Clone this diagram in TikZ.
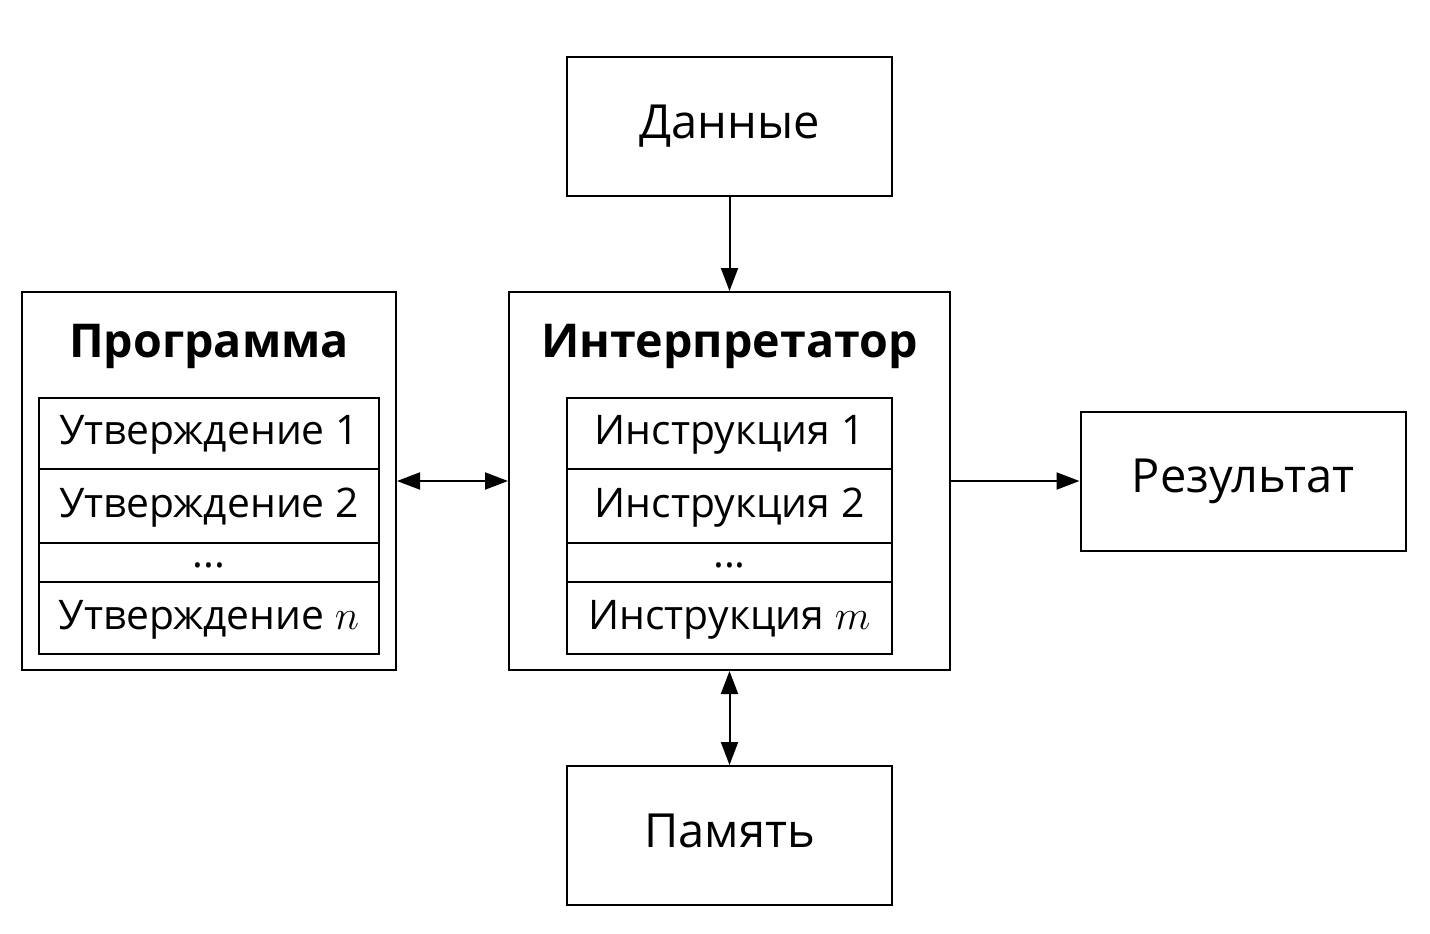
\documentclass[tikz,border=0pt]{standalone}
\usepackage{fontspec}
\setmainfont{Open Sans}
\usetikzlibrary{arrows.meta}
\begin{document}
\begin{tikzpicture}[x=0.5pt,y=-0.5pt,
  box/.style={draw,line width=1pt,inner sep=0pt,text height=1.1em,text depth=0em},
  big/.style={box,minimum width=162.5pt,minimum height=69.5pt,font=\fontsize{23.5}{28}\selectfont,text height=1.15em},
  outer/.style={draw,line width=1pt,inner sep=0pt,minimum height=189pt},
  title/.style={anchor=base,font=\fontsize{23.3}{28}\selectfont\bfseries},
  row/.style={box,font=\fontsize{20.4}{24}\selectfont},
  arr/.style={line width=1pt,-{Triangle[length=11.5pt,width=8.5pt]}},
  biarr/.style={line width=1pt,{Triangle[length=11.5pt,width=8.5pt]}-{Triangle[length=11.5pt,width=8.5pt]}}]
\useasboundingbox (0,0) rectangle (1430,933);
% top / bottom / right boxes
\node[big] (data) at (729.5,126.5) {Данные};
\node[big] (mem) at (729.5,835.5) {Память};
\node[big] (res) at (1243,481) {Результат};
% program
\node[outer,minimum width=187pt] (prog) at (209,481) {};
\node[title] (progt) at (209,357) {Программа};
\node[row,minimum width=170pt,minimum height=35.5pt] (p1) at (209,433.5) {Утверждение 1};
\node[row,minimum width=170pt,minimum height=37pt] (p2) at (209,506) {Утверждение 2};
\node[row,minimum width=170pt,minimum height=19.5pt,text height=0.5em,text depth=0pt] (p3) at (209,562.5) {...};
\node[row,minimum width=170pt,minimum height=36pt] (p4) at (209,618) {Утверждение $n$};
% interpreter
\node[outer,minimum width=220.5pt] (interp) at (729.5,481) {};
\node[title] (interpt) at (729.5,357) {Интерпретатор};
\node[row,minimum width=162.5pt,minimum height=35.5pt] (i1) at (729.5,433.5) {Инструкция 1};
\node[row,minimum width=162.5pt,minimum height=37pt] (i2) at (729.5,506) {Инструкция 2};
\node[row,minimum width=162.5pt,minimum height=19.5pt,text height=0.5em,text depth=0pt] (i3) at (729.5,562.5) {...};
\node[row,minimum width=162.5pt,minimum height=36pt] (i4) at (729.5,618) {Инструкция $m$};
% connectors
\draw[arr] (data.south) -- (interp.north);
\draw[biarr] (prog.east) -- (interp.west);
\draw[arr] (interp.east) -- (res.west);
\draw[biarr] (interp.south) -- (mem.north);
\end{tikzpicture}
\end{document}
